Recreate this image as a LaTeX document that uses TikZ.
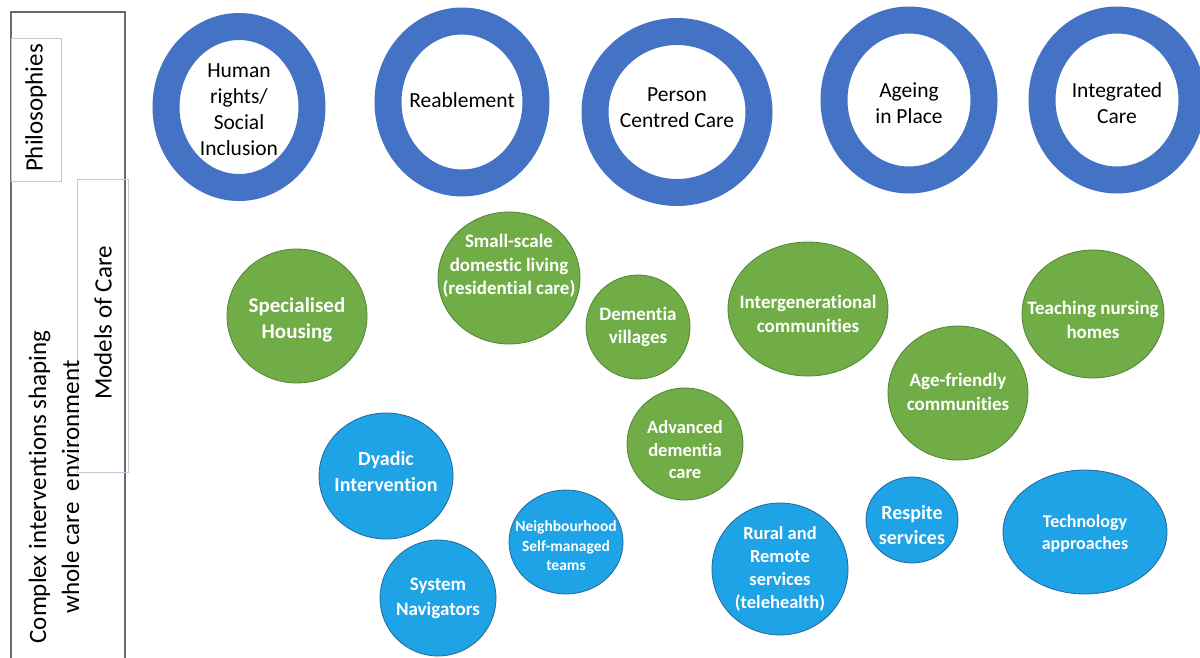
\documentclass[tikz,border=0pt]{standalone}
\usepackage{fontspec}
\setmainfont{Carlito}[Ligatures=NoCommon]
\usetikzlibrary{shapes.geometric}

\definecolor{ringblue}{RGB}{68,114,196}
\definecolor{modelgreen}{RGB}{112,173,71}
\definecolor{modeledge}{RGB}{84,130,53}
\definecolor{serviceblue}{RGB}{30,163,230}
\definecolor{serviceedge}{RGB}{38,104,150}
\definecolor{frameline}{RGB}{100,104,115}
\definecolor{boxline}{RGB}{195,200,210}

\begin{document}
\begin{tikzpicture}[x=1pt,y=-1pt,
    ring/.style={ellipse,draw=ringblue,line width=27pt,inner sep=0pt},
    ringtext/.style={align=center,font=\fontsize{21.5}{26}\selectfont},
    bubble/.style={ellipse,fill=modelgreen,draw=modeledge,line width=0.8pt,inner sep=0pt},
    service/.style={bubble,fill=serviceblue,draw=serviceedge},
    bubbletext/.style={align=center,text=white,font=\bfseries\fontsize{19}{23.5}\selectfont},
    sidetext/.style={rotate=90,align=center,font=\fontsize{25}{33}\selectfont}]
            \useasboundingbox (0,0) rectangle (1200,657);
            \draw[frameline,line width=1.2pt] (11,12) rectangle (125,670);
            \draw[boxline,line width=0.8pt] (11,38) rectangle (61,181);
            \draw[boxline,line width=0.8pt] (77,179) rectangle (128,472);
            \node[sidetext] (philo) at (36,108) {Philosophies};
            \node[sidetext] (models) at (103,323) {Models of Care};
            \node[sidetext] (complex) at (54,487) {Complex interventions shaping\\whole care~ environment};

            \node[ring,minimum width=146pt,minimum height=161pt] (rights) at (239,107) {};
            \node[ring,minimum width=148pt,minimum height=162pt] (reable) at (462,102) {};
            \node[ring,minimum width=164pt,minimum height=161pt] (person) at (677,112) {};
            \node[ring,minimum width=150pt,minimum height=160pt] (ageing) at (909,100) {};
            \node[ring,minimum width=150pt,minimum height=160pt] (integr) at (1117,100) {};
            \node[ringtext] (rights text) at (239,110) {Human\\rights/\\Social\\Inclusion};
            \node[ringtext] (reable text) at (462,100) {Reablement};
            \node[ringtext] (person text) at (677,108) {Person\\Centred Care};
            \node[ringtext] (ageing text) at (909,103) {Ageing\\in Place};
            \node[ringtext] (integr text) at (1117,103) {Integrated\\Care};

            \node[bubble,minimum width=140pt,minimum height=134pt] (housing) at (297,316) {};
            \node[bubble,minimum width=142pt,minimum height=132pt] (smallscale) at (509,278) {};
            \node[bubble,minimum width=104pt,minimum height=104pt] (villages) at (638,327) {};
            \node[bubble,minimum width=160pt,minimum height=134pt] (intergen) at (808,309) {};
            \node[bubble,minimum width=142pt,minimum height=128pt] (teaching) at (1093,314) {};
            \node[bubble,minimum width=140pt,minimum height=134pt] (agefriendly) at (958,393) {};
            \node[bubble,minimum width=116pt,minimum height=112pt] (advanced) at (685,444) {};
            \node[bubbletext,font=\bfseries\fontsize{21}{26}\selectfont] (housing text) at (297,320) {Specialised\\Housing};
            \node[bubbletext] (smallscale text) at (509,266) {Small-scale\\domestic living\\(residential care)};
            \node[bubbletext] (villages text) at (638,327) {Dementia\\villages};
            \node[bubbletext] (intergen text) at (808,314) {Intergenerational\\communities};
            \node[bubbletext] (teaching text) at (1093,320) {Teaching nursing\\homes};
            \node[bubbletext] (agefriendly text) at (958,392) {Age-friendly\\communities};
            \node[bubbletext,font=\bfseries\fontsize{18.5}{22.5}\selectfont] (advanced text) at (685,450) {Advanced\\dementia\\care};

            \node[service,minimum width=134pt,minimum height=126pt] (dyadic) at (386,476) {};
            \node[service,minimum width=116pt,minimum height=116pt] (navigators) at (438,598) {};
            \node[service,minimum width=114pt,minimum height=104pt] (neighbour) at (566,542) {};
            \node[service,minimum width=136pt,minimum height=132pt] (rural) at (780,569) {};
            \node[service,minimum width=92pt,minimum height=86pt] (respite) at (912,520) {};
            \node[service,minimum width=164pt,minimum height=124pt] (technology) at (1085,532) {};
            \node[bubbletext,font=\bfseries\fontsize{20}{26}\selectfont] (dyadic text) at (386,472) {Dyadic\\Intervention};
            \node[bubbletext,font=\bfseries\fontsize{19}{25}\selectfont] (navigators text) at (438,598) {System\\Navigators};
            \node[bubbletext,font=\bfseries\fontsize{15.5}{19.5}\selectfont] (neighbour text) at (566,546) {Neighbourhood\\Self-managed\\teams};
            \node[bubbletext,font=\bfseries\fontsize{18.5}{23}\selectfont] (rural text) at (780,569) {Rural and\\Remote\\services\\(telehealth)};
            \node[bubbletext,font=\bfseries\fontsize{20}{25}\selectfont] (respite text) at (912,525) {Respite\\services};
            \node[bubbletext,font=\bfseries\fontsize{18}{22}\selectfont] (technology text) at (1085,534) {Technology\\approaches};
        \end{tikzpicture}
\end{document}
